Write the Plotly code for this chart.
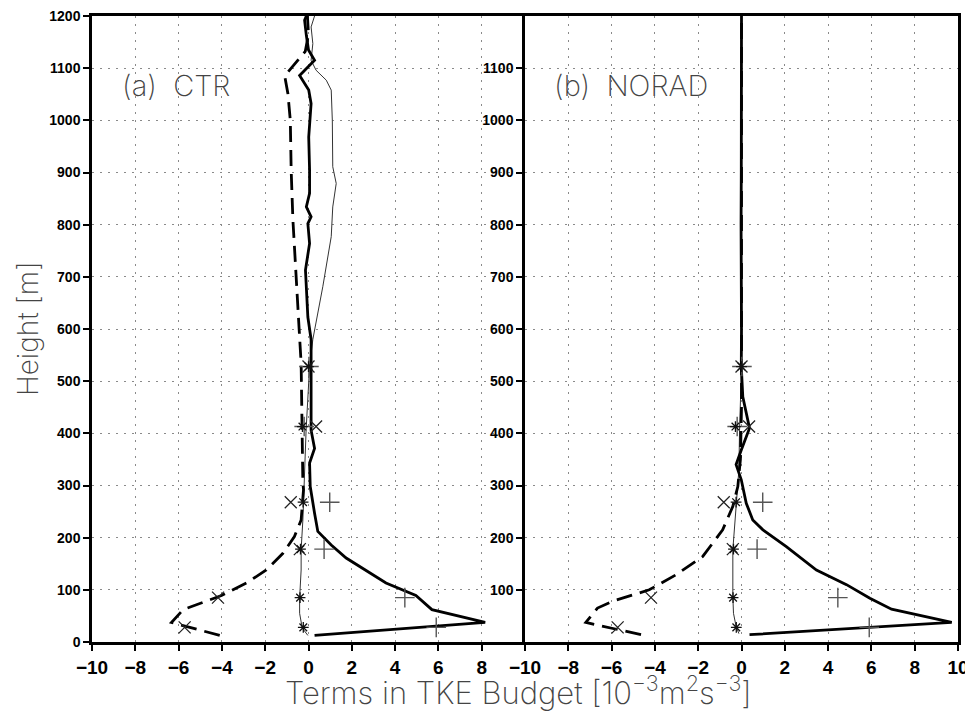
import plotly.graph_objects as go

# ---------------- data ----------------
# observation heights and values (same in both panels)
obs_z = [28, 85, 178, 268, 413, 528]
obs_plus = [5.9, 4.45, 0.72, 0.98, -0.2, 0.02]
obs_cross = [-5.72, -4.18, -0.40, -0.82, 0.35, 0.0]
obs_star = [-0.24, -0.39, -0.37, -0.25, -0.28, 0.0]

# (a) CTR
ctr_shear_z = [12.6, 37.5, 62, 89, 113, 161, 186, 212, 247, 298, 343, 371, 406, 470, 534,
               580, 623, 713, 764, 802, 815, 834, 860, 904, 968, 1032, 1058, 1086, 1115,
               1135, 1163, 1192, 1200]
ctr_shear_x = [0.28, 8.16, 5.7, 4.96, 3.58, 1.74, 1.05, 0.43, 0.28, 0.08, 0.05, 0.28, 0.12,
               0.12, 0.12, 0.12, -0.03, -0.14, 0.05, -0.03, 0.12, -0.10, 0.05, 0.05, 0.01,
               0.12, 0.01, -0.41, 0.28, 0.0, -0.10, -0.18, -0.1]

ctr_diss_z = [12.6, 37.5, 62, 89, 113, 138, 170, 202, 234, 292, 304, 406, 534, 598, 713,
              809, 904, 1000, 1051, 1085, 1132, 1165, 1200]
ctr_diss_x = [-4.10, -6.33, -5.79, -4.02, -2.87, -1.95, -1.18, -0.65, -0.34, -0.23, -0.26,
              -0.29, -0.34, -0.43, -0.57, -0.72, -0.80, -0.84, -0.95, -1.10, -0.15, 0.0,
              -0.05]

ctr_thin_z = [12.6, 27, 55, 84, 138, 177, 234, 266, 343, 407, 528, 580, 681, 777, 834, 879,
              911, 1000, 1058, 1077, 1096, 1115, 1147, 1179, 1200]
ctr_thin_x = [-0.03, -0.29, -0.41, -0.41, -0.34, -0.34, -0.26, -0.23, -0.18, -0.11, 0.05,
              0.20, 0.66, 1.05, 1.12, 1.28, 1.12, 1.10, 1.05, 0.82, 0.35, 0.12, 0.20, 0.12,
              0.28]

# (b) NORAD
norad_shear_z = [14, 37.5, 63, 84, 110, 138, 183, 215, 234, 266, 311, 340, 368, 410, 470,
                 528, 600, 700, 800, 900, 1000, 1100, 1200]
norad_shear_x = [0.37, 9.71, 6.93, 5.93, 4.85, 3.46, 2.07, 0.99, 0.52, 0.22, -0.01, -0.25,
                 -0.01, 0.37, 0.06, -0.01, 0.0, -0.02, -0.02, -0.01, -0.01, -0.01, 0.0]

norad_diss_z = [14, 37.5, 65, 78, 100, 129, 164, 215, 260, 298, 350, 450, 600, 800, 1000, 1200]
norad_diss_x = [-4.64, -7.19, -6.65, -5.96, -4.26, -3.02, -1.79, -0.87, -0.40, -0.17, -0.05,
                0.0, 0.0, 0.0, 0.0, 0.0]

norad_thin_z = [16, 30, 55, 87, 177, 266, 330, 406, 528, 600, 800, 1000, 1200]
norad_thin_x = [-0.12, -0.25, -0.37, -0.40, -0.40, -0.25, -0.12, -0.09, 0.0, 0.0, 0.0, 0.0, 0.0]

xticks_a = [-10, -8, -6, -4, -2, 0, 2, 4, 6, 8]
xticks_b = [-10, -8, -6, -4, -2, 0, 2, 4, 6, 8, 10]
yticks_a = list(range(0, 1201, 100))
yticks_b = list(range(100, 1101, 100))

# ---------------- figure ----------------
fig = go.Figure()

def add_panel(xa, ya, thin_x, thin_z, diss_x, diss_z, shear_x, shear_z):
    fig.add_trace(go.Scatter(x=thin_x, y=thin_z, mode="lines", xaxis=xa, yaxis=ya,
                             line=dict(color="#333333", width=1)))
    fig.add_trace(go.Scatter(x=diss_x, y=diss_z, mode="lines", xaxis=xa, yaxis=ya,
                             line=dict(color="black", width=2.8, dash="16px,8px")))
    fig.add_trace(go.Scatter(x=shear_x, y=shear_z, mode="lines", xaxis=xa, yaxis=ya,
                             line=dict(color="black", width=2.8)))
    fig.add_trace(go.Scatter(x=obs_plus, y=obs_z, mode="markers", xaxis=xa, yaxis=ya,
                             marker=dict(symbol="cross-thin", size=14, color="#555555",
                                         line=dict(color="#555555", width=1.4))))
    fig.add_trace(go.Scatter(x=obs_cross, y=obs_z, mode="markers", xaxis=xa, yaxis=ya,
                             marker=dict(symbol="x-thin", size=12, color="#222222",
                                         line=dict(color="#222222", width=1.3))))
    fig.add_trace(go.Scatter(x=obs_star, y=obs_z, mode="markers", xaxis=xa, yaxis=ya,
                             marker=dict(symbol="asterisk", size=9, color="#111111",
                                         line=dict(color="#111111", width=1.3))))

add_panel("x", "y", ctr_thin_x, ctr_thin_z, ctr_diss_x, ctr_diss_z, ctr_shear_x, ctr_shear_z)
add_panel("x2", "y2", norad_thin_x, norad_thin_z, norad_diss_x, norad_diss_z,
          norad_shear_x, norad_shear_z)

tickfont_x = dict(family="Liberation Sans", size=19, color="black", weight="bold")
tickfont_y = dict(family="Liberation Sans", size=14, color="black", weight="bold")

def axis(**kw):
    d = dict(showline=True, linewidth=2.5, linecolor="black", mirror=True,
             ticks="outside", ticklen=6, tickwidth=1.5, tickcolor="black",
             showgrid=True, gridcolor="#8a8a8a", gridwidth=1, griddash="2px,6px",
             zeroline=False, fixedrange=True, automargin=False,
             ticklabeloverflow="allow")
    d.update(kw)
    return d

# the page body adds an 8px offset; margins compensate so the plot area
# lands at x 92..958, y 16..642 in the window
fig.update_layout(
    template="none",
    width=973, height=713,
    margin=dict(l=84, r=23, t=8, b=79, autoexpand=False),
    paper_bgcolor="white", plot_bgcolor="white",
    showlegend=False,
    xaxis=axis(domain=[0, 0.5], range=[-10, 10], tickvals=xticks_a, anchor="y",
               tickfont=tickfont_x),
    xaxis2=axis(domain=[0.5, 1], range=[-10, 10], tickvals=xticks_b, anchor="y2",
                tickfont=tickfont_x),
    yaxis=axis(domain=[0, 1], range=[0, 1200], tickvals=yticks_a, anchor="x",
               tickfont=tickfont_y, mirror=False),
    yaxis2=axis(domain=[0, 1], range=[0, 1200], tickvals=yticks_b, anchor="x2",
                tickfont=tickfont_y),
)

title_font = dict(family="Inter, DejaVu Sans", size=31, color="#444444", weight=200)
ytitle_font = dict(family="Inter, DejaVu Sans", size=28, color="#444444", weight=200)
label_font = dict(family="Inter, DejaVu Sans", size=29, color="#444444", weight=200)

fig.add_annotation(text="Terms in TKE Budget [10<sup>\u22123</sup>m<sup>2</sup>s<sup>\u22123</sup>]",
                   xref="paper", yref="paper", x=0.493, y=-0.077,
                   xanchor="center", yanchor="middle", showarrow=False, font=title_font)
fig.add_annotation(text="Height [m]", textangle=-90,
                   xref="paper", yref="paper", x=-0.074, y=0.5,
                   xanchor="center", yanchor="middle", showarrow=False, font=ytitle_font)
fig.add_annotation(text="(a)\u00a0\u00a0CTR", xref="x", yref="y", x=-8.7, y=1067,
                   xanchor="left", yanchor="middle", showarrow=False, font=label_font)
fig.add_annotation(text="(b)\u00a0\u00a0NORAD", xref="x2", yref="y2", x=-8.75, y=1067,
                   xanchor="left", yanchor="middle", showarrow=False, font=label_font)

fig.write_html("out.html")
